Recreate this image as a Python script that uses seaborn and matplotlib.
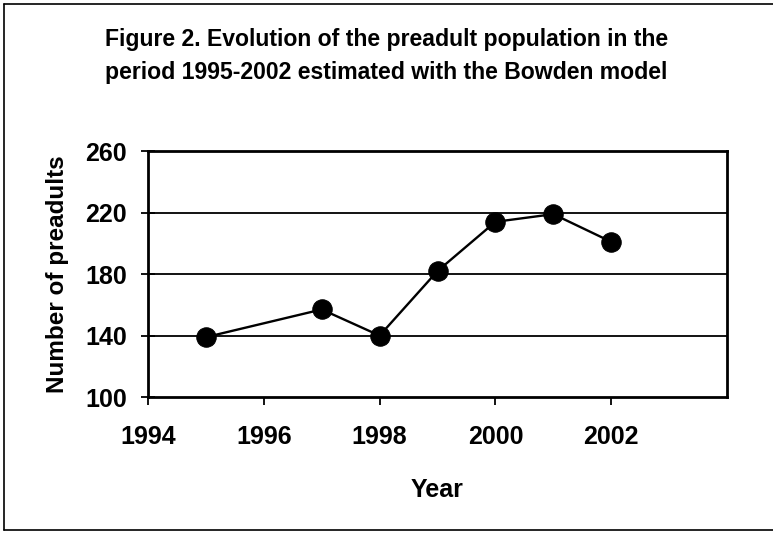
import matplotlib
matplotlib.use("Agg")
import matplotlib.pyplot as plt
import pandas as pd
import seaborn as sns
from matplotlib.lines import Line2D

years = [1995, 1997, 1998, 1999, 2000, 2001, 2002]
preadults = [139, 157, 140, 182, 214, 219, 201]
x_ticks = [1994, 1996, 1998, 2000, 2002]
y_ticks = [100, 140, 180, 220, 260]

TITLE = "Figure 2. Evolution of the preadult population in the\nperiod 1995-2002 estimated with the Bowden model"


def main() -> None:
    df = pd.DataFrame({"year": years, "preadults": preadults})

    sns.set_theme(style="white")
    plt.rcParams["font.family"] = ["Liberation Sans", "DejaVu Sans"]
    plt.rcParams["font.weight"] = "bold"

    fig = plt.figure(figsize=(7.73, 5.33), dpi=100)
    ax = fig.add_axes([0.1915, 0.255, 0.749, 0.4615])

    sns.lineplot(
        data=df, x="year", y="preadults", ax=ax,
        color="black", linewidth=1.7, marker="o", markersize=14,
        markeredgecolor="black", markerfacecolor="black",
    )

    ax.set_xlim(1994, 2004)
    ax.set_ylim(100, 260)
    ax.set_xticks(x_ticks)
    ax.set_yticks(y_ticks)
    for y in [140, 180, 220]:
        ax.axhline(y, color="black", linewidth=1.3, zorder=0)

    for spine in ax.spines.values():
        spine.set_visible(True)
        spine.set_color("black")
        spine.set_linewidth(2)

    ax.tick_params(axis="x", direction="out", length=6, width=1.3, color="black",
                   labelsize=18, pad=14, bottom=True)
    ax.tick_params(axis="y", direction="inout", length=10, width=1.3, color="black",
                   labelsize=18, pad=10, left=True)
    for lab in ax.get_xticklabels() + ax.get_yticklabels():
        lab.set_fontweight("bold")
        lab.set_color("black")

    ax.set_xlabel("Year", fontsize=18, fontweight="bold", color="black", labelpad=21)
    ax.set_ylabel("Number of preadults", fontsize=17.5, fontweight="bold", color="black", labelpad=12)

    fig.text(0.5, 0.895, TITLE, ha="center", va="center", fontsize=16.6,
             fontweight="bold", color="black", linespacing=1.58)

    # figure frame on left, top and bottom
    for xs, ys in [([0.005, 0.005], [0.005, 0.992]), ([0.005, 1.0], [0.992, 0.992]),
                   ([0.005, 1.0], [0.005, 0.005])]:
        fig.add_artist(Line2D(xs, ys, color="black", linewidth=1.2, transform=fig.transFigure))

    fig.savefig("out.png", dpi=100)
    plt.close(fig)


if __name__ == "__main__":
    main()
